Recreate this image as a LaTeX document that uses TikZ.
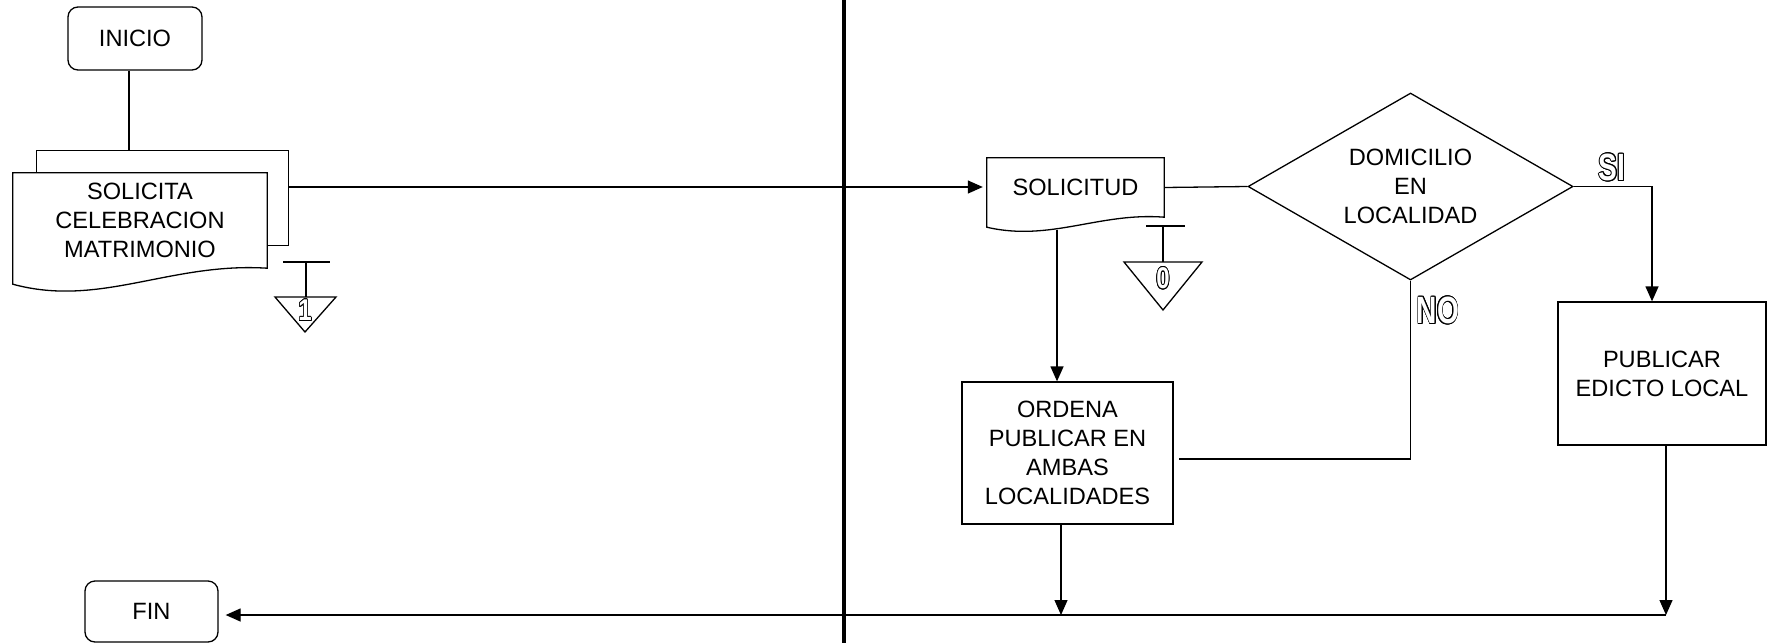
\documentclass[tikz,border=0pt]{standalone}
\usepackage{fontspec}
\setmainfont{Liberation Sans}
\usepackage{graphicx}
\usepackage{contour}
\usetikzlibrary{arrows.meta,calc,positioning,shapes.geometric}
\contourlength{1pt}
\newcommand{\hueco}[2]{\scalebox{#1}[1]{\color{white}\contour{black}{#2}}}
\tikzset{%
        linea/.style = {draw = black, line width = 1.3pt},
        flecha/.style = {linea, -{Triangle[length=15pt,width=13pt]}},
        terminal/.style = {linea, rectangle, rounded corners = 10pt,
            minimum width = 134pt, minimum height = 63pt},
        proceso/.style = {linea, rectangle},
        decision/.style = {linea, diamond, aspect = 1.74,
            minimum width = 325pt, minimum height = 187pt},
        etiqueta/.style = {font = \fontsize{38}{38}\selectfont\bfseries},
        digito/.style = {font = \fontsize{30}{30}\selectfont\bfseries}
}

\begin{document}
\begin{tikzpicture}[x=1pt, y=-1pt,
        every node/.style = {font = \fontsize{23.6}{29}\selectfont,
            align = center, inner sep = 0pt}]
        \useasboundingbox (0,0) rectangle (1767,643);
        % carril
        \draw[line width = 4pt] (844,0) -- (844,643);

        \node[terminal] (inicio) at (135,38.5) {INICIO};
        \node (soli) at (140,220.5) [minimum width = 254pt, minimum height = 95pt]
            {SOLICITA\\CELEBRACION\\MATRIMONIO};
        \node (sol) at (1075.5,187.5) [minimum width = 177pt, minimum height = 59pt] {SOLICITUD};
        \node[decision] (dom) at (1410.5,186.5) {DOMICILIO\\EN\\LOCALIDAD};
        \node[proceso, minimum width = 208pt, minimum height = 143pt] (pub) at (1662,373.5)
            {PUBLICAR\\EDICTO LOCAL};
        \node[proceso, minimum width = 211pt, minimum height = 142pt] (ord) at (1067.5,453)
            {ORDENA\\PUBLICAR EN\\AMBAS\\LOCALIDADES};
        \node[terminal, minimum width = 133pt, minimum height = 61pt] (fin) at (151.5,611.5) {FIN};

        % documentos
        \draw[linea] (soli.north west) -- (soli.north east) -- (soli.south east)
            .. controls (170,262) and (100,308) .. ($(soli.south west)+(0,16)$) -- cycle;
        \draw[linea] ($(soli.north west)+(24,0)$) -- ++(0,-22) -- ++(252,0) -- ++(0,95) -- ++(-22,0);
        \draw[linea] (sol.north west) -- (sol.north east) -- (sol.south east)
            .. controls (1100,212) and (1050,242) .. ($(sol.south west)+(0,10)$) -- cycle;

        % archivos
        \draw[linea] (283,262) -- (330,262) (306,262) -- (306,297);
        \draw[linea] (275,297) -- (336,297) -- (305,332) -- cycle;
        \node[digito] (arch1) at (305,311) {\hueco{0.8}{1}};
        \draw[linea] (1146,226) -- (1185,226) (1163,226) -- (1163,262);
        \draw[linea] (1124,262) -- (1202,262) -- (1163,310) -- cycle;
        \node[digito] (arch0) at (1163,279) {\hueco{0.8}{0}};

        \coordinate (mtop) at (129,151);
        \coordinate (mder) at (289,187);
        \coordinate (pie1) at (1061,615);
        \coordinate (pie2) at (1666,615);

        \draw[linea] (inicio.south -| mtop) -- (mtop);
        \draw[flecha, shorten > = 4pt] (mder) -- (sol.west |- mder);
        \draw[linea] (sol.east) -- (dom.west);
        \draw[flecha] (dom.east) -| ([xshift = -10pt]pub.north);
        \draw[linea] (dom.south) |- ([shift = {(5,6)}]ord.east);
        \draw[flecha] ([shift = {(-18.5,13)}]sol.south) -- ([xshift = -18.5pt]sol.south |- ord.north);
        \draw[flecha] (ord.south -| pie1) -- (pie1);
        \draw[flecha] (pub.south -| pie2) -- (pie2);
        \draw[flecha, shorten > = 7pt] (pie2) -- (fin.east |- pie2);

        \node[etiqueta] (si) at (1612,168) {\hueco{0.74}{SI}};
        \node[etiqueta] (no) at (1438,311) {\hueco{0.74}{NO}};
\end{tikzpicture}
\end{document}
